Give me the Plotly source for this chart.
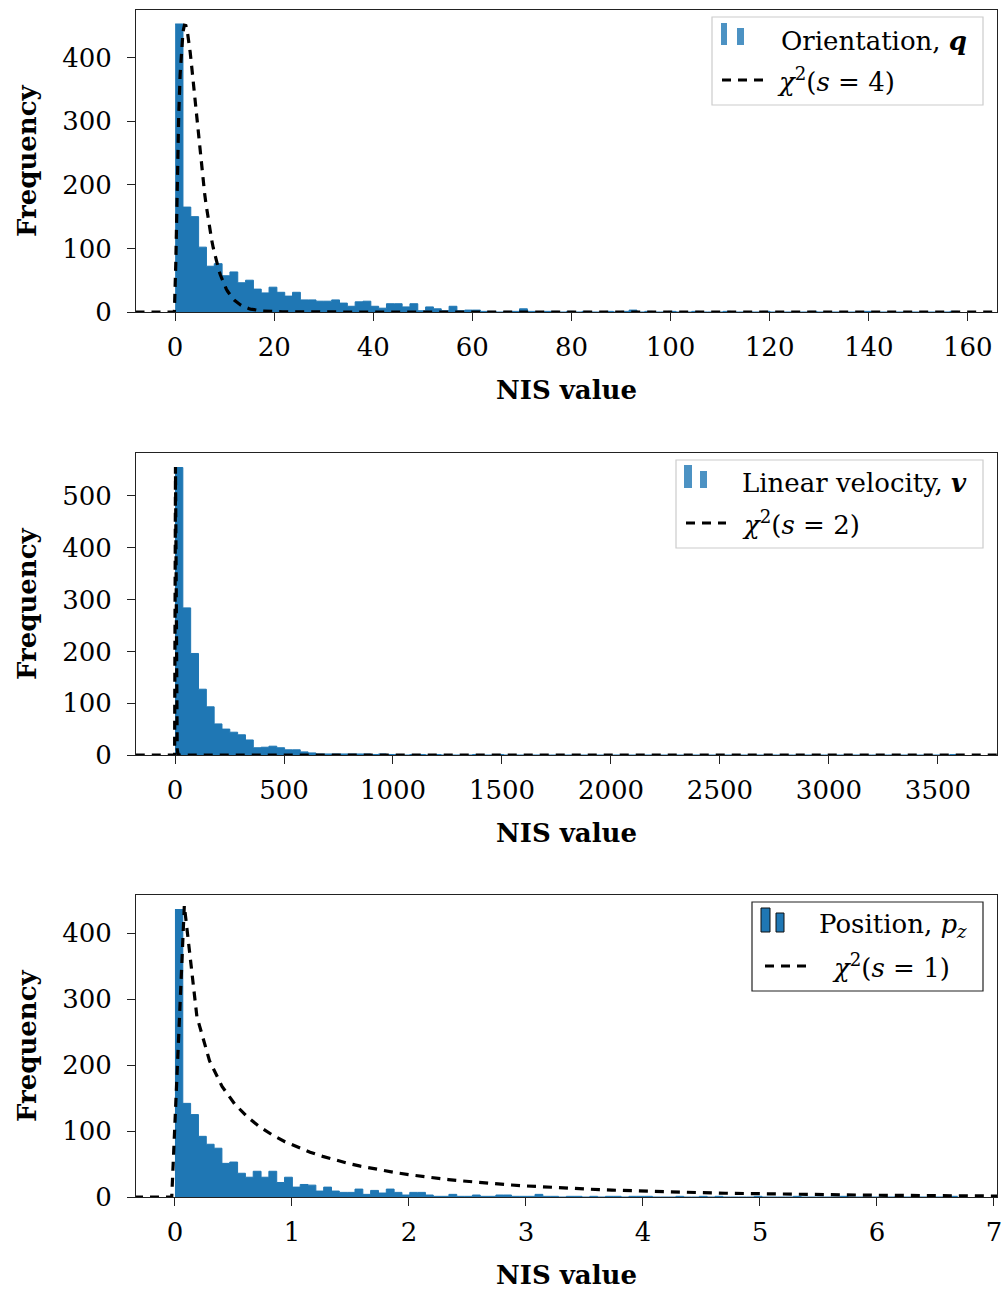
import numpy as np
import plotly.graph_objects as go
from math import gamma

# ---------------- data ----------------
# Panel 1: Orientation NIS histogram, 100 bins starting at 0
orient_bin_width = 1.58
orient_counts = [453, 165, 150, 102, 72, 76, 57, 63, 46, 50,
                 36, 30, 39, 31, 25, 31, 19, 19, 17, 17,
                 19, 14, 9, 16, 17, 9, 6, 13, 13, 8,
                 13, 2, 8, 5, 2, 9, 2, 3, 3, 1,
                 1, 0, 1, 1, 5, 1, 0, 1, 1, 0,
                 1, 0, 1, 0, 0, 1, 0, 1, 3, 0,
                 1, 0, 0, 1, 0, 0, 1, 0, 0, 0,
                 1, 0, 0, 0, 0, 1, 0, 0, 0, 0,
                 0, 1, 0, 0, 0, 0, 0, 0, 1, 0,
                 0, 0, 0, 0, 0, 0, 0, 0, 0, 1]
orient_dof = 4
orient_curve_peak = 451

# Panel 2: Linear velocity NIS histogram
vel_bin_width = 35.91
vel_counts = [555, 284, 196, 127, 93, 60, 50, 44, 39, 29,
              14, 15, 17, 14, 10, 10, 6, 4, 2, 2,
              2, 2, 2, 2, 2, 1, 2, 1, 1, 0,
              1, 1, 0, 1, 0, 0, 0, 0, 1, 0,
              0, 1, 0, 0, 0, 0, 0, 0, 0, 0,
              0, 0, 0, 0, 0, 0, 0, 0, 0, 0,
              0, 0, 0, 0, 0, 0, 0, 0, 0, 0,
              0, 0, 0, 0, 0, 0, 0, 0, 0, 0,
              0, 0, 0, 0, 0, 0, 0, 0, 0, 0,
              0, 0, 0, 0, 0, 0, 0, 0, 0, 1]
vel_dof = 2
vel_curve_peak = 556

# Panel 3: Position p_z NIS histogram
pos_bin_width = 0.0669
pos_counts = [436, 142, 125, 92, 80, 74, 51, 53, 36, 30,
              39, 30, 39, 22, 30, 15, 19, 18, 9, 15,
              9, 7, 7, 12, 4, 10, 6, 12, 7, 3,
              7, 7, 3, 1, 1, 4, 1, 1, 3, 1,
              1, 3, 3, 1, 1, 1, 4, 1, 1, 0,
              1, 1, 0, 1, 0, 1, 1, 0, 1, 1,
              1, 0, 0, 0, 1, 0, 0, 1, 0, 1,
              0, 0, 0, 0, 1, 0, 0, 0, 0, 1,
              0, 0, 0, 0, 0, 1, 0, 0, 0, 0,
              0, 0, 1, 0, 0, 0, 0, 0, 0, 1]
pos_dof = 1
pos_curve_peak = 442

# tick values
x1_ticks = [0, 20, 40, 60, 80, 100, 120, 140, 160]
x2_ticks = [0, 500, 1000, 1500, 2000, 2500, 3000, 3500]
x3_ticks = [0, 1, 2, 3, 4, 5, 6, 7]
y1_ticks = [0, 100, 200, 300, 400]
y2_ticks = [0, 100, 200, 300, 400, 500]
y3_ticks = [0, 100, 200, 300, 400]

labels1 = ["Orientation, <b><i>q</i></b>", "<i>χ</i><sup>2</sup>(<i>s</i> = 4)"]
labels2 = ["Linear velocity, <b><i>v</i></b>", "<i>χ</i><sup>2</sup>(<i>s</i> = 2)"]
labels3 = ["Position, <i>p<sub>z</sub></i>", "<i>χ</i><sup>2</sup>(<i>s</i> = 1)"]

# ---------------- layout constants ----------------
W, H = 1004, 1291
ML, MR, MT, MB = 136, 7, 10, 94
PW, PH = W - ML - MR, H - MT - MB
FONT = "DejaVu Serif"
FS = 26
BLUE = "#1f77b4"


def px(xp):
    return (xp - ML) / PW


def py(yp):
    return (H - MB - yp) / PH


def chi2_pdf(x, k):
    x = np.asarray(x, dtype=float)
    out = np.zeros_like(x)
    m = x > 0
    out[m] = x[m] ** (k / 2 - 1) * np.exp(-x[m] / 2) / (2 ** (k / 2) * gamma(k / 2))
    return out


def step_hist(counts, width):
    edges = np.arange(len(counts) + 1) * width
    y = list(counts) + [counts[-1]]
    return edges, y


fig = go.Figure()

panels = [
    dict(counts=orient_counts, w=orient_bin_width, dof=orient_dof, peak=orient_curve_peak,
         grid=np.linspace(-8, 166, 600), xr=[-7.9, 165.9], yr=[0, 475],
         xt=x1_ticks, yt=y1_ticks, ax="", top=10, bottom=312),
    dict(counts=vel_counts, w=vel_bin_width, dof=vel_dof, peak=vel_curve_peak,
         grid=np.linspace(-180, 3775, 1000), xr=[-179, 3771], yr=[0, 583],
         xt=x2_ticks, yt=y2_ticks, ax="2", top=453, bottom=755),
    dict(counts=pos_counts, w=pos_bin_width, dof=pos_dof, peak=pos_curve_peak,
         grid=np.arange(-0.35, 7.1, 0.1075), xr=[-0.333, 7.026], yr=[0, 458],
         xt=x3_ticks, yt=y3_ticks, ax="3", top=895, bottom=1197),
]

for p in panels:
    xa = "x" + p["ax"]
    ya = "y" + p["ax"]
    ex, ey = step_hist(p["counts"], p["w"])
    fig.add_trace(go.Scatter(x=ex, y=ey, mode="lines", line_shape="hv",
                             line=dict(color=BLUE, width=1), fill="tozeroy",
                             fillcolor=BLUE, xaxis=xa, yaxis=ya, showlegend=False))
    pdf = chi2_pdf(p["grid"], p["dof"])
    curve = pdf / pdf.max() * p["peak"]
    fig.add_trace(go.Scatter(x=p["grid"], y=curve, mode="lines",
                             line=dict(color="black", width=3.2, dash="9px,7px"),
                             xaxis=xa, yaxis=ya, showlegend=False, cliponaxis=True))

layout = dict(width=W, height=H, margin=dict(l=ML, r=MR, t=MT, b=MB, autoexpand=False),
              paper_bgcolor="white", plot_bgcolor="white",
              font=dict(family=FONT, size=FS, color="black"), showlegend=False)

for p in panels:
    dom = [py(p["bottom"]), py(p["top"])]
    axcommon = dict(showline=True, linecolor="#222", linewidth=1, mirror=True,
                    ticks="outside", ticklen=8, tickwidth=1, tickcolor="#222",
                    showgrid=False, zeroline=False, automargin=False,
                    tickfont=dict(family=FONT, size=FS, color="black"))
    layout["xaxis" + p["ax"]] = dict(domain=[0, 1], range=p["xr"], tickmode="array",
                                     tickvals=p["xt"], anchor="y" + p["ax"],
                                     ticklabelstandoff=4, **axcommon)
    layout["yaxis" + p["ax"]] = dict(domain=dom, range=p["yr"], tickmode="array",
                                     tickvals=p["yt"], anchor="x" + p["ax"],
                                     ticklabelstandoff=10, **axcommon)

fig.update_layout(**layout)

# axis titles as annotations
for p in panels:
    fig.add_annotation(x=px(566.5), y=py(p["bottom"] + 78), xref="paper", yref="paper",
                       text="<b>NIS value</b>", showarrow=False, xanchor="center",
                       yanchor="middle", font=dict(family=FONT, size=FS))
    fig.add_annotation(x=px(27), y=py((p["top"] + p["bottom"]) / 2), xref="paper", yref="paper",
                       text="<b>Frequency</b>", showarrow=False, textangle=-90,
                       xanchor="center", yanchor="middle", font=dict(family=FONT, size=FS))

# manual legends
legends = [
    dict(box=(712, 17, 983, 105), border="#cccccc", icon_fill="rgba(31,119,180,0.8)", icon_line=None,
         bars=[(721, 23, 727, 45), (737, 28, 744, 45)], dash=(722, 764, 80),
         text_x=(779, 775), rows=(41, 80), labels=labels1),
    dict(box=(676, 460, 983, 548), border="#cccccc", icon_fill="rgba(31,119,180,0.8)", icon_line=None,
         bars=[(684, 465, 692, 488), (700, 471, 707, 488)], dash=(686, 726, 523),
         text_x=(740, 740), rows=(483, 523), labels=labels2),
    dict(box=(752, 902, 983, 991), border="#222222", icon_fill=BLUE, icon_line="#111",
         bars=[(761, 908, 770, 932), (776, 913, 784, 932)], dash=(765, 806, 966),
         text_x=(817, 830), rows=(925, 966), labels=labels3),
]

for lg in legends:
    x0, y0, x1, y1 = lg["box"]
    fig.add_shape(type="rect", xref="paper", yref="paper", x0=px(x0), x1=px(x1),
                  y0=py(y1), y1=py(y0), line=dict(color=lg["border"], width=1.2),
                  fillcolor="rgba(255,255,255,0.9)", layer="above")
    for (bx0, by0, bx1, by1) in lg["bars"]:
        fig.add_shape(type="rect", xref="paper", yref="paper", x0=px(bx0), x1=px(bx1),
                      y0=py(by1), y1=py(by0), fillcolor=lg["icon_fill"],
                      line=dict(color=lg["icon_line"] or "rgba(0,0,0,0)",
                                width=1 if lg["icon_line"] else 0), layer="above")
    dx0, dx1, dy = lg["dash"]
    fig.add_shape(type="line", xref="paper", yref="paper", x0=px(dx0), x1=px(dx1),
                  y0=py(dy), y1=py(dy), line=dict(color="black", width=3.2, dash="9px,7px"),
                  layer="above")
    for lab, tx, ry in zip(lg["labels"], lg["text_x"], lg["rows"]):
        fig.add_annotation(x=px(tx), y=py(ry), xref="paper", yref="paper", text=lab,
                           showarrow=False, xanchor="left", yanchor="middle",
                           font=dict(family=FONT, size=FS, color="black"))

fig.write_html("out.html", config={"displayModeBar": False},
               post_script="document.body.style.margin='0';")
